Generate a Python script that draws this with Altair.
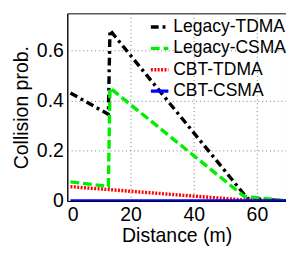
import altair as alt
import pandas as pd

series = ["Legacy-TDMA", "Legacy-CSMA", "CBT-TDMA", "CBT-CSMA"]
colors = ["#000000", "#00ee00", "#ff0000", "#0000ff"]

tdma_x = [1, 13, 13.5, 57, 70]
tdma_y = [0.43, 0.345, 0.68, 0.01, 0.0]
csma_x = [1, 13, 13.5, 56, 70]
csma_y = [0.076, 0.058, 0.45, 0.018, 0.0]
cbt_tdma_x = [1, 57, 70]
cbt_tdma_y = [0.057, 0.003, 0.0]
cbt_csma_x = [1, 70]
cbt_csma_y = [0.0, 0.0]

rows = []
for name, xs, ys in [
    ("Legacy-TDMA", tdma_x, tdma_y),
    ("Legacy-CSMA", csma_x, csma_y),
    ("CBT-TDMA", cbt_tdma_x, cbt_tdma_y),
    ("CBT-CSMA", cbt_csma_x, cbt_csma_y),
]:
    for i, (x, y) in enumerate(zip(xs, ys)):
        rows.append({"series": name, "d": x, "p": y, "i": i})
df = pd.DataFrame(rows)

font = "Liberation Sans"

leg = dict(title=None, orient="none", legendX=84, legendY=3,
           symbolType="stroke", symbolSize=324, symbolStrokeWidth=3,
           labelFontSize=18, labelFont=font, labelColor="#000",
           rowPadding=2, labelLimit=200, labelOffset=3)

chart = (
    alt.Chart(df)
    .mark_line(clip=True)
    .encode(
        x=alt.X("d:Q", scale=alt.Scale(domain=[0, 69.2], nice=False),
                axis=alt.Axis(values=[0, 20, 40, 60], title="Distance (m)")),
        y=alt.Y("p:Q", scale=alt.Scale(domain=[0, 0.747], nice=False),
                axis=alt.Axis(values=[0, 0.2, 0.4, 0.6], title="Collision prob.",
                              labelExpr="datum.value == 0 ? '0' : format(datum.value, '.1f')")),
        color=alt.Color("series:N", scale=alt.Scale(domain=series, range=colors),
                        legend=alt.Legend(**leg)),
        strokeDash=alt.StrokeDash("series:N", scale=alt.Scale(domain=series,
                                  range=[[8, 4, 3, 4], [9, 4], [2, 1.5], [1, 0]]),
                                  legend=alt.Legend(**leg)),
        strokeWidth=alt.StrokeWidth("series:N", scale=alt.Scale(domain=series, range=[3.5, 3.5, 2.5, 3.5]),
                                    legend=None),
        order="i:Q",
    )
    .properties(
        width=225,
        height=193,
        autosize=alt.AutoSizeParams(type="none"),
        padding={"left": 61, "top": 2, "right": 0, "bottom": 50},
    )
    .configure_view(stroke="#000000", strokeWidth=1)
    .configure_axis(
        labelFont=font, titleFont=font, labelFontSize=20, titleFontSize=20,
        titleFontWeight="normal", labelColor="#000", titleColor="#000",
        domainColor="#000", domainWidth=1, ticks=False,
        grid=True, gridColor="#777", gridDash=[1, 3], gridWidth=1,
    )
    .configure_axisX(labelPadding=4, titlePadding=2)
    .configure_axisY(labelPadding=4, titlePadding=5)
)

chart.save("out.html", embed_options={"renderer": "svg", "actions": False})
